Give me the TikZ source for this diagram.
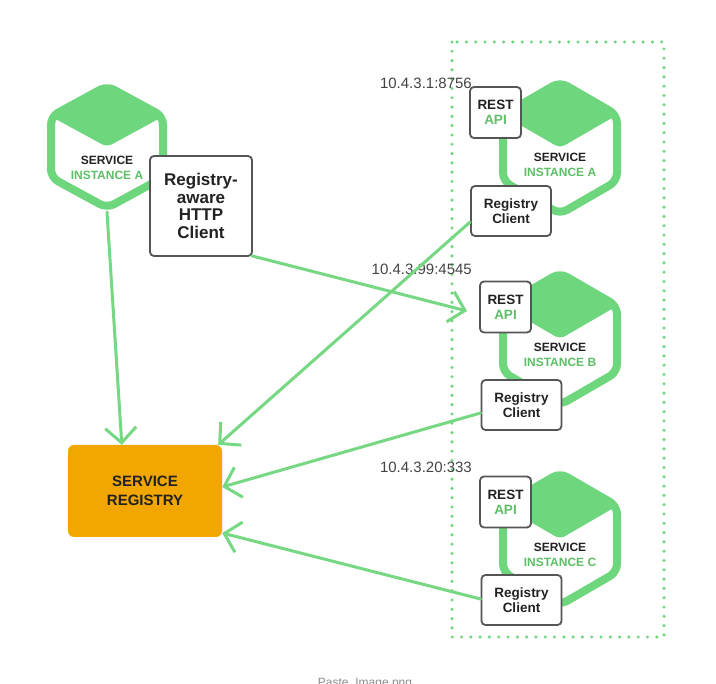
\documentclass[tikz,border=0pt]{standalone}
\usepackage{fontspec}
\setmainfont{Liberation Sans}
\usetikzlibrary{arrows.meta}
\definecolor{hexg}{RGB}{110,214,124}
\definecolor{lineg}{RGB}{118,216,130}
\definecolor{txtg}{RGB}{96,190,104}
\definecolor{txtk}{RGB}{34,34,34}
\definecolor{boxgray}{RGB}{85,85,85}
\definecolor{regor}{RGB}{242,166,0}
\definecolor{iptxt}{RGB}{68,68,68}
\definecolor{captxt}{RGB}{140,140,140}
\newcommand\hexshape[4]{% cx cy R w
  \fill[hexg, rounded corners=5pt] ({#1},{#2-#3}) -- ({#1+#4},{#2-#3/2}) -- ({#1},{#2}) -- ({#1-#4},{#2-#3/2}) -- cycle;
  \draw[hexg, line width=8pt, rounded corners=8pt, line join=round] ({#1},{#2-#3}) -- ({#1+#4},{#2-#3/2}) -- ({#1+#4},{#2+#3/2}) -- ({#1},{#2+#3}) -- ({#1-#4},{#2+#3/2}) -- ({#1-#4},{#2-#3/2}) -- cycle;
}
\begin{document}
\begin{tikzpicture}[x=1pt,y=-1pt,
  wbox/.style={draw=boxgray, line width=1.8pt, fill=white, rounded corners=4pt, align=center, inner sep=0pt, text=txtk, font=\bfseries\fontsize{13.5}{15}\selectfont},
  restbox/.style={wbox, minimum width=51pt, minimum height=51pt},
  rcbox/.style={wbox, minimum width=80pt, minimum height=50pt},
  hexlabel/.style={align=center, inner sep=0pt, text=txtk, font=\bfseries\fontsize{12}{15}\selectfont},
  iplabel/.style={anchor=east, inner sep=0pt, text=iptxt, font=\fontsize{15}{17}\selectfont},
  arr/.style={draw=lineg, line width=3pt, line cap=round, line join=round, -{Straight Barb[length=15pt,width=31pt]}},
  dotbox/.style={draw=hexg, line width=3.4pt, line cap=round, dash pattern=on 0pt off 9.3pt},
]
\useasboundingbox (0,0) rectangle (716,684);
\clip (0,0) rectangle (716,684);
\fill[white] (0,0) rectangle (716,684);

% dotted container
\draw[dotbox] (452,42) rectangle (664,637);

% hexagons
\hexshape{107}{147}{61}{56}
\hexshape{560}{148}{66}{57}
\hexshape{560}{339}{66}{57}
\hexshape{560}{539}{66}{57}
\coordinate (hexLbot) at (107,212);

% hexagon labels
\node[hexlabel] (lblL) at (107,168) {SERVICE\\\textcolor{txtg}{INSTANCE A}};
\node[hexlabel] (lblA) at (560,165) {SERVICE\\\textcolor{txtg}{INSTANCE A}};
\node[hexlabel] (lblB) at (560,355) {SERVICE\\\textcolor{txtg}{INSTANCE B}};
\node[hexlabel] (lblC) at (560,555) {SERVICE\\\textcolor{txtg}{INSTANCE C}};

% boxes
\node[wbox, minimum width=102pt, minimum height=100pt, font=\bfseries\fontsize{17}{17.5}\selectfont] (http) at (201,206) {Registry-\\aware\\HTTP\\Client};

\node[restbox] (restA) at (495.5,112.5) {REST\\\textcolor{txtg}{API}};
\node[rcbox] (rcA) at (511,211) {Registry\\Client};
\node[restbox] (restB) at (505.5,307) {REST\\\textcolor{txtg}{API}};
\node[rcbox] (rcB) at (521.5,405) {Registry\\Client};
\node[restbox] (restC) at (505.5,502) {REST\\\textcolor{txtg}{API}};
\node[rcbox] (rcC) at (521.5,600) {Registry\\Client};

\node[fill=regor, rounded corners=6pt, minimum width=154pt, minimum height=92pt, inner sep=0pt, align=center, text=txtk, font=\bfseries\fontsize{15}{18.5}\selectfont] (reg) at (145,491) {SERVICE\\REGISTRY};

% IP labels
\node[iplabel] (ipA) at (472,83) {10.4.3.1:8756};
\node[iplabel] (ipB) at (472,269) {10.4.3.99:4545};
\node[iplabel] (ipC) at (472,467) {10.4.3.20:333};

% connectors
\coordinate (tipB) at (467,311);
\draw[arr] (hexLbot) -- ([xshift=54pt]reg.north west);
\draw[arr] ([xshift=-1pt,yshift=1pt]http.south east) -- (tipB);
\draw[arr] ([yshift=-11pt]rcA.west) -- ([xshift=-4pt]reg.north east);
\draw[arr] ([yshift=-8pt]rcB.west) -- ([yshift=4pt]reg.east);
\draw[arr] ([yshift=1pt]rcC.west) -- ([yshift=-42pt]reg.east);

% caption (cut off at the bottom edge, as in the reference)
\node[anchor=base, inner sep=0pt, text=captxt, font=\fontsize{12}{14}\selectfont] (cap) at (365,686.5) {Paste\_Image.png};
\end{tikzpicture}
\end{document}
